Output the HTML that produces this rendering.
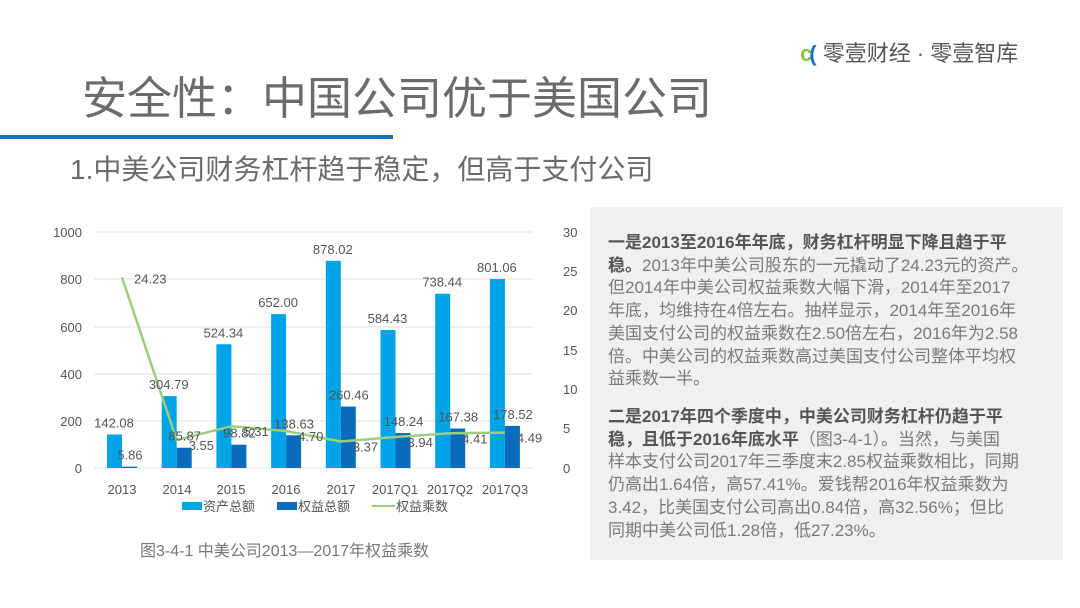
<!DOCTYPE html>
<html><head><meta charset="utf-8"><style>
body{margin:0;width:1080px;height:608px;background:#fff;position:relative;overflow:hidden;font-family:"Liberation Sans","Noto Sans CJK SC",sans-serif}
.a{position:absolute;white-space:nowrap}
#box{position:absolute;left:590px;top:207px;width:473px;height:353px;background:#f0f0f0}
.t{position:absolute;left:608px;font-size:17px;line-height:22.7px;color:#7a7a7a;white-space:nowrap}
.t b{color:#555}
</style></head><body>
<div class="a" style="left:800px;top:36px;font-size:22px;color:#555"><span style="color:#8bc53f;font-weight:bold">c</span><span style="color:#1a75c4;font-weight:bold;margin-left:-3px">(</span> 零壹财经 · 零壹智库</div>
<div class="a" style="left:82px;top:62px;font-size:45px;color:#6b6b6b">安全性：中国公司优于美国公司</div>
<div style="position:absolute;left:0;top:135px;width:393px;height:4px;background:#1a6fc0"></div>
<div class="a" style="left:70px;top:148px;font-size:28px;color:#6b6b6b">1.中美公司财务杠杆趋于稳定，但高于支付公司</div>
<div id="box"></div>
<div class="t" style="top:232px"><b>一是2013至2016年年底，财务杠杆明显下降且趋于平<br>稳。</b>2013年中美公司股东的一元撬动了24.23元的资产。<br>但2014年中美公司权益乘数大幅下滑，2014年至2017<br>年底，均维持在4倍左右。抽样显示，2014年至2016年<br>美国支付公司的权益乘数在2.50倍左右，2016年为2.58<br>倍。中美公司的权益乘数高过美国支付公司整体平均权<br>益乘数一半。</div>
<div class="t" style="top:406px"><b>二是2017年四个季度中，中美公司财务杠杆仍趋于平<br>稳，且低于2016年底水平</b>（图3-4-1）。当然，与美国<br>样本支付公司2017年三季度末2.85权益乘数相比，同期<br>仍高出1.64倍，高57.41%。爱钱帮2016年权益乘数为<br>3.42，比美国支付公司高出0.84倍，高32.56%；但比<br>同期中美公司低1.28倍，低27.23%。</div>
<div class="a" style="left:140px;top:537px;font-size:16px;color:#777">图3-4-1 中美公司2013—2017年权益乘数</div>
<svg style="position:absolute;left:0;top:0" width="1080" height="608" font-family="Liberation Sans, Noto Sans CJK SC, sans-serif" font-size="13" fill="#555">
<g stroke="#e0e0e0" stroke-width="1">
<line x1="94" x2="533" y1="232" y2="232"/><line x1="94" x2="533" y1="279" y2="279"/><line x1="94" x2="533" y1="327" y2="327"/><line x1="94" x2="533" y1="374" y2="374"/><line x1="94" x2="533" y1="421" y2="421"/><line x1="94" x2="533" y1="468" y2="468"/>
</g>
<g text-anchor="end"><text x="82" y="237">1000</text><text x="82" y="284">800</text><text x="82" y="332">600</text><text x="82" y="379">400</text><text x="82" y="426">200</text><text x="82" y="473">0</text></g>
<g><text x="563" y="237">30</text><text x="563" y="276">25</text><text x="563" y="315">20</text><text x="563" y="355">15</text><text x="563" y="394">10</text><text x="563" y="433">5</text><text x="563" y="473">0</text></g>
<g id="bars"></g>
<g text-anchor="middle">
<text x="122" y="494">2013</text><text x="177" y="494">2014</text><text x="231" y="494">2015</text><text x="286" y="494">2016</text><text x="341" y="494">2017</text><text x="395" y="494">2017Q1</text><text x="450" y="494">2017Q2</text><text x="505" y="494">2017Q3</text>
</g>
<rect x="182" y="502" width="20" height="8" fill="#00a4e6"/><text x="203" y="511">资产总额</text>
<rect x="277" y="502" width="20" height="8" fill="#0b6bbd"/><text x="298" y="511">权益总额</text>
<line x1="372" x2="395" y1="506" y2="506" stroke="#9bcf7f" stroke-width="2"/><text x="396" y="511">权益乘数</text>
</svg>
<script>
var A=[142.08,304.79,524.34,652,878.02,584.43,738.44,801.06],E=[5.86,85.87,98.82,138.63,260.46,148.24,167.38,178.52],M=[24.23,3.55,5.31,4.70,3.37,3.94,4.41,4.49];
var s='',p=[],l='';
for(var i=0;i<8;i++){var c=122+54.7*i,ha=A[i]*0.236,he=E[i]*0.236,y=468-M[i]*7.87;
s+='<rect x="'+(c-15)+'" y="'+(468-ha)+'" width="15" height="'+ha+'" fill="#00a4e6"/>';
s+='<rect x="'+c+'" y="'+(468-he)+'" width="15" height="'+he+'" fill="#0b6bbd"/>';
l+='<text text-anchor="middle" x="'+(c-8)+'" y="'+(468-ha-7)+'">'+A[i].toFixed(2)+'</text>';
l+='<text text-anchor="middle" x="'+(c+8)+'" y="'+(468-he-7)+'">'+E[i].toFixed(2)+'</text>';
p.push(c+','+y);
l+='<text x="'+(c+12)+'" y="'+(y+(i==0?6:10))+'">'+M[i].toFixed(2)+'</text>';}
s+='<polyline points="'+p.join(' ')+'" fill="none" stroke="#9bcf7f" stroke-width="2.5"/>'+l;
document.getElementById('bars').innerHTML=s;
</script>
</body></html>
